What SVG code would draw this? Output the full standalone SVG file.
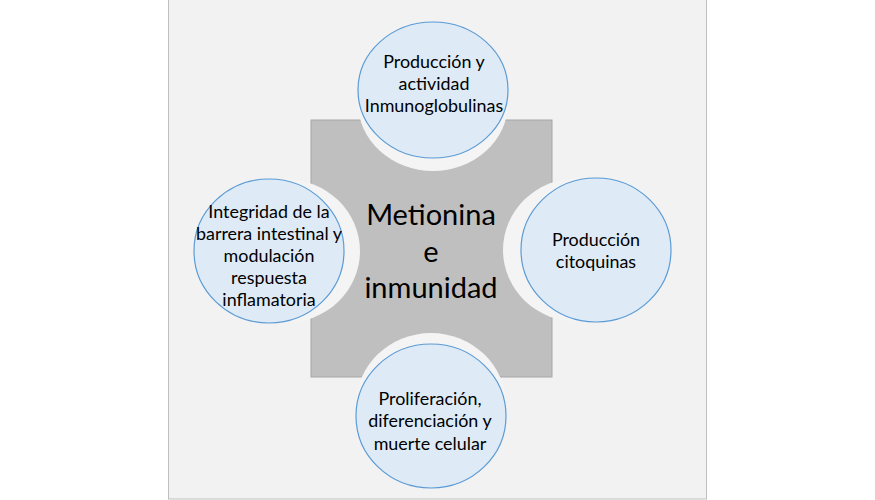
<svg xmlns="http://www.w3.org/2000/svg" width="875" height="500" viewBox="0 0 875 500">
<style>
.halo{fill:#f4f4f4;stroke:none}
.node{fill:#deebf7;stroke:#5b9bd5;stroke-width:1.2}
.t{font-family:Lato,"Liberation Sans",sans-serif;font-size:17.9px;fill:#000;text-anchor:middle}
.c{font-family:Lato,"Liberation Sans",sans-serif;font-size:29px;fill:#000;text-anchor:middle}
</style>
<rect x="0" y="0" width="875" height="500" fill="#ffffff"/>
<rect x="168.5" y="-1" width="538" height="500" fill="#f2f2f2" stroke="#bfbfbf" stroke-width="1"/>
<g id="center">
<rect x="311" y="120" width="241" height="257" fill="#bfbfbf" stroke="#a6a6a6" stroke-width="1"/>
<text class="c" x="431" y="225">Metionina</text>
<text class="c" x="431" y="262">e</text>
<text class="c" x="431" y="298">inmunidad</text>
</g>
<g id="connectors"></g>
<g id="top">
<ellipse class="halo" cx="433" cy="103" rx="75" ry="68"/>
<ellipse class="node" cx="433" cy="90" rx="75" ry="68"/>
<text class="t" x="434" y="68">Producción y</text>
<text class="t" x="434" y="90">actividad</text>
<text class="t" x="434" y="112">Inmunoglobulinas</text>
</g>
<g id="left">
<ellipse class="halo" cx="285" cy="251" rx="75" ry="72"/>
<ellipse class="node" cx="269" cy="251" rx="75" ry="72"/>
<text class="t" x="269" y="218">Integridad de la</text>
<text class="t" x="269" y="240">barrera intestinal y</text>
<text class="t" x="269" y="262">modulación</text>
<text class="t" x="269" y="284">respuesta</text>
<text class="t" x="269" y="306">inflamatoria</text>
</g>
<g id="right">
<ellipse class="halo" cx="578" cy="250" rx="75" ry="72"/>
<ellipse class="node" cx="596" cy="250" rx="75" ry="72"/>
<text class="t" x="596" y="246">Producción</text>
<text class="t" x="596" y="268">citoquinas</text>
</g>
<g id="bottom">
<ellipse class="halo" cx="431" cy="405" rx="75" ry="72"/>
<ellipse class="node" cx="431" cy="416" rx="75" ry="72"/>
<text class="t" x="430" y="405">Proliferación,</text>
<text class="t" x="430" y="427">diferenciación y</text>
<text class="t" x="430" y="450">muerte celular</text>
</g>
</svg>
